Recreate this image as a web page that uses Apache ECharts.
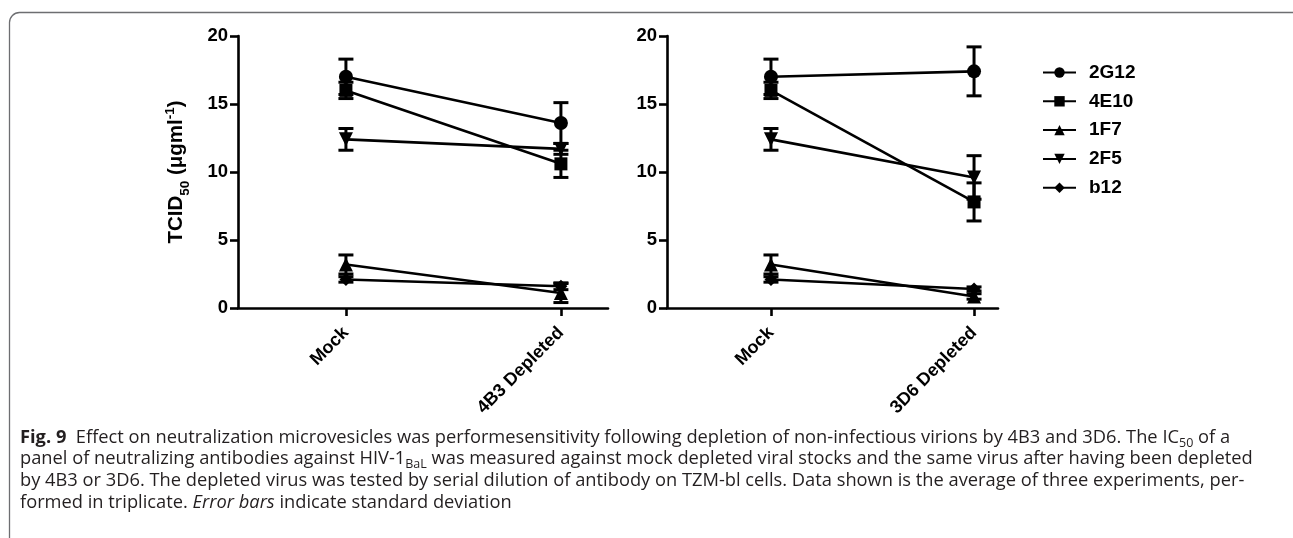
<!DOCTYPE html>
<html>
<head>
<meta charset="utf-8">
<script src="https://cdn.jsdelivr.net/npm/echarts@6/dist/echarts.min.js"></script>
<style>
html,body{margin:0;padding:0;background:#fff;}
#chart{width:1293px;height:538px;}
</style>
</head>
<body>
<div id="chart"></div>
<script>
// ---- data ----
const categoriesLeft = ['Mock', '4B3 Depleted'];
const categoriesRight = ['Mock', '3D6 Depleted'];
const seriesNames = ['2G12', '4E10', '1F7', '2F5', 'b12'];
// means [Mock, Depleted]
const leftMeans = {
  '2G12': [17.0, 13.6],
  '4E10': [16.0, 10.6],
  '1F7':  [3.2, 1.1],
  '2F5':  [12.4, 11.7],
  'b12':  [2.1, 1.6]
};
const leftSD = {
  '2G12': [1.3, 1.5],
  '4E10': [0.6, 1.0],
  '1F7':  [0.7, 0.7],
  '2F5':  [0.8, 0.4],
  'b12':  [0.2, 0.25]
};
const rightMeans = {
  '2G12': [17.0, 17.4],
  '4E10': [16.0, 7.8],
  '1F7':  [3.2, 0.85],
  '2F5':  [12.4, 9.6],
  'b12':  [2.1, 1.4]
};
const rightSD = {
  '2G12': [1.3, 1.8],
  '4E10': [0.6, 1.4],
  '1F7':  [0.7, 0.2],
  '2F5':  [0.8, 1.6],
  'b12':  [0.2, 0.15]
};
const yTicks = [0, 5, 10, 15, 20];

// ---- style ----
const symbolFor = {'2G12':'circle','4E10':'rect','1F7':'triangle','2F5':'triangle','b12':'diamond'};
const rotateFor = {'2G12':0,'4E10':0,'1F7':0,'2F5':180,'b12':0};
const sizeFor = {'2G12':14,'4E10':13,'1F7':14,'2F5':14,'b12':13};
const FONT = 'Arial, "Liberation Sans", Helvetica, sans-serif';

const chart = echarts.init(document.getElementById('chart'), null, {renderer:'canvas'});

function xAxisFor(idx, cats, min, max){
  return {
    type:'value', gridIndex: idx, min: min, max: max,
    axisLine:{show:true, onZero:false, lineStyle:{color:'#000', width:2.6}},
    axisTick:{show:true, customValues:[0,1], length:8, lineStyle:{color:'#000', width:2.6}},
    axisLabel:{show:true, customValues:[0,1], rotate:45, margin:22, color:'#000',
      fontFamily:FONT, fontWeight:'bold', fontSize:18,
      formatter: v => cats[Math.round(v)]},
    splitLine:{show:false}
  };
}
function yAxisFor(idx, withName){
  const ax = {
    type:'value', gridIndex: idx, min: yTicks[0], max: yTicks[yTicks.length-1], interval: yTicks[1]-yTicks[0],
    axisLine:{show:true, onZero:false, lineStyle:{color:'#000', width:2.6}},
    axisTick:{show:true, length:8, lineStyle:{color:'#000', width:2.6}},
    axisLabel:{color:'#000', fontFamily:FONT, fontWeight:'bold', fontSize:18.5, margin:10},
    splitLine:{show:false}
  };
  if (withName){
    ax.name = 'TCID{s|50} (μgml{p|-1})';
    ax.nameLocation = 'middle';
    ax.nameRotate = 90;
    ax.nameGap = 51;
    ax.nameTextStyle = {color:'#000', fontFamily:FONT, fontWeight:'bold', fontSize:20.5,
      rich:{
        s:{fontFamily:FONT, fontWeight:'bold', fontSize:13.5, verticalAlign:'bottom', color:'#000', padding:[0,0,-5,0]},
        p:{fontFamily:FONT, fontWeight:'bold', fontSize:13.5, verticalAlign:'top', color:'#000', padding:[-3,0,0,0]}
      }};
  }
  return ax;
}

const series = [];
function addPanel(idx, means, sds){
  seriesNames.forEach(n => {
    series.push({
      name:n, type:'line', xAxisIndex:idx, yAxisIndex:idx,
      data: means[n].map((v,i)=>[i, v]),
      symbol: symbolFor[n], symbolSize: sizeFor[n], symbolRotate: rotateFor[n],
      showSymbol:true,
      lineStyle:{color:'#000', width:2.6},
      itemStyle:{color:'#000'},
      z:3, animation:false, silent:true
    });
  });
  const eb = [];
  seriesNames.forEach(n => {
    means[n].forEach((m,i) => eb.push([i, m, sds[n][i]]));
  });
  series.push({
    type:'custom', xAxisIndex:idx, yAxisIndex:idx, data: eb, z:2, animation:false, silent:true,
    encode:{x:0, y:1},
    renderItem: function(params, api){
      const x = api.value(0), m = api.value(1), s = api.value(2);
      const hi = api.coord([x, m + s]);
      const lo = api.coord([x, m - s]);
      const w = 7.5;
      const st = {stroke:'#000', lineWidth:3};
      return {type:'group', children:[
        {type:'line', shape:{x1:hi[0], y1:hi[1], x2:lo[0], y2:lo[1]}, style:st},
        {type:'line', shape:{x1:hi[0]-w, y1:hi[1], x2:hi[0]+w, y2:hi[1]}, style:st},
        {type:'line', shape:{x1:lo[0]-w, y1:lo[1], x2:lo[0]+w, y2:lo[1]}, style:st}
      ]};
    }
  });
}
addPanel(0, leftMeans, leftSD);
addPanel(1, rightMeans, rightSD);

const capFont = '"Open Sans", "Noto Sans", sans-serif';
const CAPSIZE = 18.3;
const capRich = {
  b:{fontFamily:capFont, fontWeight:'bold', fontSize:CAPSIZE, color:'#231f20'},
  i:{fontFamily:capFont, fontStyle:'italic', fontSize:CAPSIZE, color:'#231f20'},
  sub:{fontFamily:capFont, fontSize:12.5, color:'#231f20', verticalAlign:'bottom', padding:[0,0,-3,0]}
};
const captionLines = [
  '{b|Fig. 9}  Effect on neutralization microvesicles was performesensitivity following depletion of non-infectious virions by 4B3 and 3D6. The IC{sub|50} of a',
  'panel of neutralizing antibodies against HIV-1{sub|BaL} was measured against mock depleted viral stocks and the same virus after having been depleted',
  'by 4B3 or 3D6. The depleted virus was tested by serial dilution of antibody on TZM-bl cells. Data shown is the average of three experiments, per-',
  'formed in triplicate. {i|Error bars} indicate standard deviation'
];
const graphics = [{
  type:'rect', silent:true,
  shape:{x:9.5, y:12.5, width:1300, height:600, r:10},
  style:{fill:'none', stroke:'#6d6e71', lineWidth:1.3}
}];
captionLines.forEach((t, i) => {
  graphics.push({
    type:'text', silent:true, x: 20, y: 437.5 + i*21.7,
    style:{text:t, fontFamily:capFont, fontSize:CAPSIZE, fill:'#231f20',
      textVerticalAlign:'middle', rich:capRich}
  });
});

chart.setOption({
  animation:false,
  backgroundColor:'#fff',
  grid:[
    {left:238, top:36, width:370, height:272},
    {left:667, top:36, width:331, height:272}
  ],
  xAxis:[
    xAxisFor(0, categoriesLeft, -0.502, 1.219),
    xAxisFor(1, categoriesRight, -0.512, 1.118)
  ],
  yAxis:[ yAxisFor(0, true), yAxisFor(1, false) ],
  legend:{
    orient:'vertical', left:1037, top:58, itemWidth:33, itemHeight:13, itemGap:9.8,
    data: seriesNames, selectedMode:false,
    textStyle:{color:'#000', fontFamily:FONT, fontWeight:'bold', fontSize:19, padding:[0,0,0,8]}
  },
  series: series,
  graphic: graphics
});
</script>
</body>
</html>
